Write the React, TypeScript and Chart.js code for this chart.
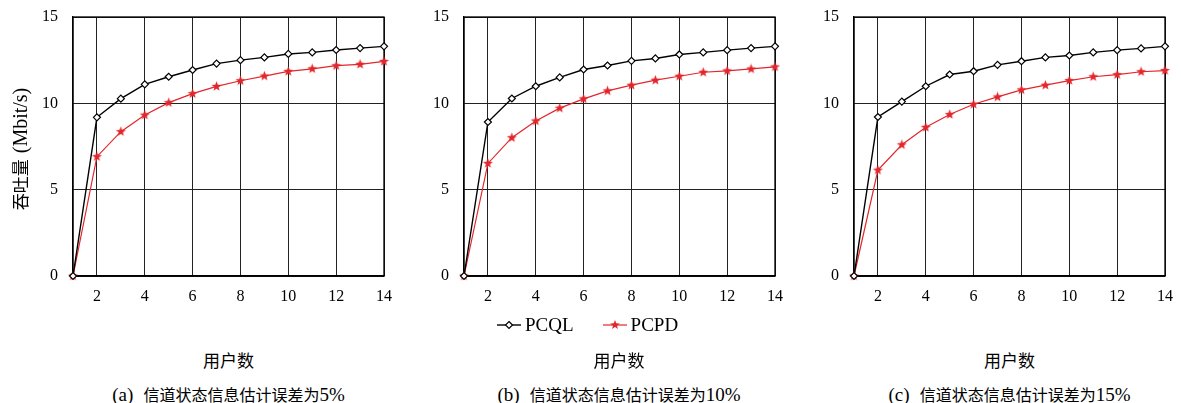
import React, { useEffect, useRef } from "react";
import { Chart, registerables } from "chart.js";
Chart.register(...registerables);

const userCounts = [1, 2, 3, 4, 5, 6, 7, 8, 9, 10, 11, 12, 13, 14];
const xTickValues = [2, 4, 6, 8, 10, 12, 14];
const yTickValues = [0, 5, 10, 15];
const seriesNames = ["PCQL", "PCPD"];
const pcqlA = [0, 9.19, 10.27, 11.1, 11.54, 11.93, 12.3, 12.5, 12.66, 12.86, 12.95, 13.09, 13.2, 13.3];
const pcpdA = [0, 6.91, 8.36, 9.32, 10.04, 10.56, 10.98, 11.31, 11.58, 11.85, 12.0, 12.18, 12.26, 12.43];
const pcqlB = [0, 8.92, 10.28, 10.99, 11.5, 11.96, 12.19, 12.46, 12.6, 12.83, 12.95, 13.08, 13.2, 13.3];
const pcpdB = [0, 6.52, 8.01, 8.98, 9.72, 10.26, 10.72, 11.05, 11.34, 11.57, 11.8, 11.88, 11.99, 12.11];
const pcqlC = [0, 9.21, 10.1, 10.99, 11.67, 11.86, 12.23, 12.44, 12.66, 12.77, 12.95, 13.08, 13.18, 13.3];
const pcpdC = [0, 6.13, 7.6, 8.61, 9.35, 9.95, 10.37, 10.78, 11.05, 11.32, 11.54, 11.66, 11.83, 11.9];
const xTitle = "用户数";
const yTitleCjk = "吞吐量";
const yTitleUnit = "(Mbit/s)";
const captionLabels = ["(a)", "(b)", "(c)"];
const captionText = "信道状态信息估计误差为";
const captionErrors = ["5%", "10%", "15%"];

const RED = "#e3262b";
const FONT = '"Liberation Serif", "Times New Roman", "DejaVu Serif", serif';
const CJK = '"Noto Sans CJK SC", sans-serif';

const AXIS_W = 73;
const PLOT_W = 311;
const PAD_R = 14;
const PLOT_TOP = 17;
const CANVAS_H = 310;
const X_AXIS_H = 34;
const panels = [
  { left: 73, q: pcqlA, p: pcpdA },
  { left: 463.5, q: pcqlB, p: pcpdB },
  { left: 854, q: pcqlC, p: pcpdC },
];

function makeStar(color: string, size: number): HTMLCanvasElement {
  const c = document.createElement("canvas");
  c.width = size;
  c.height = size;
  const ctx = c.getContext("2d")!;
  const cx = size / 2, cy = size / 2;
  const R = size / 2 - 0.3, r = R * 0.42;
  ctx.beginPath();
  for (let i = 0; i < 10; i++) {
    const a = -Math.PI / 2 + (i * Math.PI) / 5;
    const rad = i % 2 === 0 ? R : r;
    const x = cx + rad * Math.cos(a), y = cy + rad * Math.sin(a);
    if (i === 0) ctx.moveTo(x, y); else ctx.lineTo(x, y);
  }
  ctx.closePath();
  ctx.fillStyle = color;
  ctx.fill();
  return c;
}

const boxPlugin = {
  id: "box",
  beforeDatasetsDraw(chart: any) {
    const { ctx, chartArea: a } = chart;
    ctx.save();
    ctx.strokeStyle = "#000";
    ctx.lineWidth = 1.3;
    ctx.strokeRect(a.left, a.top, a.right - a.left, a.bottom - a.top);
    ctx.restore();
  },
};

function zeroPadding(s: any) {
  s.paddingTop = 0;
  s.paddingBottom = 0;
  s.paddingLeft = 0;
  s.paddingRight = 0;
}

function Panel({ left, q, p }: { left: number; q: number[]; p: number[] }) {
  const ref = useRef<HTMLCanvasElement>(null);
  const W = AXIS_W + PLOT_W + PAD_R;
  useEffect(() => {
    const star = makeStar(RED, 11);
    const tickFont = { family: FONT, size: 16 };
    const chart = new Chart(ref.current!, {
      type: "line",
      data: {
        datasets: [
          {
            label: seriesNames[0],
            data: userCounts.map((x, i) => ({ x, y: q[i] })),
            borderColor: "#000",
            borderWidth: 1.4,
            pointStyle: "rectRot",
            pointRadius: 3.5,
            pointBackgroundColor: "#fff",
            pointBorderColor: "#000",
            pointBorderWidth: 1.2,
            tension: 0,
            clip: false,
          } as any,
          {
            label: seriesNames[1],
            data: userCounts.map((x, i) => ({ x, y: p[i] })),
            borderColor: RED,
            borderWidth: 1.2,
            pointStyle: star,
            pointRadius: 5,
            tension: 0,
            clip: false,
          } as any,
        ],
      },
      options: {
        animation: false,
        responsive: false,
        events: [],
        layout: { autoPadding: false, padding: { left: 0, right: PAD_R, top: PLOT_TOP, bottom: 0 } },
        plugins: { legend: { display: false }, tooltip: { enabled: false } },
        scales: {
          x: {
            type: "linear",
            min: 1,
            max: 14,
            afterBuildTicks: (s: any) => {
              s.ticks = xTickValues.map((v) => ({ value: v }));
            },
            afterFit: (s: any) => {
              s.height = X_AXIS_H;
              zeroPadding(s);
            },
            grid: { color: "#222", lineWidth: 1, drawTicks: false },
            border: { color: "#000", width: 1.3 },
            ticks: { color: "#000", font: tickFont, padding: 11, maxRotation: 0, autoSkip: false },
          },
          y: {
            min: 0,
            max: 15,
            afterBuildTicks: (s: any) => {
              s.ticks = yTickValues.map((v) => ({ value: v }));
            },
            afterFit: (s: any) => {
              s.width = AXIS_W;
              zeroPadding(s);
            },
            grid: { color: "#222", lineWidth: 1, drawTicks: false },
            border: { color: "#000", width: 1.3 },
            ticks: { color: "#000", font: tickFont, padding: 15 },
          },
        },
      } as any,
      plugins: [boxPlugin],
    });
    return () => chart.destroy();
  }, []);
  return (
    <canvas
      ref={ref}
      width={W}
      height={CANVAS_H}
      style={{ position: "absolute", left: left - AXIS_W, top: 0, width: W, height: CANVAS_H }}
    />
  );
}

function LegendMark({ kind }: { kind: "diamond" | "star" }) {
  const color = kind === "diamond" ? "#000" : RED;
  const pts: string[] = [];
  for (let i = 0; i < 10; i++) {
    const a = -Math.PI / 2 + (i * Math.PI) / 5;
    const rad = i % 2 === 0 ? 5 : 2.1;
    pts.push(`${13 + rad * Math.cos(a)},${8 + rad * Math.sin(a)}`);
  }
  return (
    <svg width={27} height={16} style={{ display: "block" }}>
      <line x1={1} y1={8} x2={25} y2={8} stroke={color} strokeWidth={kind === "diamond" ? 1.4 : 1.2} />
      {kind === "diamond" ? (
        <polygon points="13,4.5 16.5,8 13,11.5 9.5,8" fill="#fff" stroke="#000" strokeWidth={1.2} />
      ) : (
        <polygon points={pts.join(" ")} fill={RED} />
      )}
    </svg>
  );
}

export default function App() {
  return (
    <div style={{ position: "absolute", left: 0, top: 0, width: 1181, height: 403, background: "#fff", overflow: "hidden" }}>
      {panels.map((pn, i) => (
        <Panel key={i} left={pn.left} q={pn.q} p={pn.p} />
      ))}
      <div
        style={{
          position: "absolute",
          left: 20 - 100,
          top: 149 - 12,
          width: 200,
          height: 24,
          lineHeight: "24px",
          textAlign: "center",
          transform: "rotate(-90deg)",
          whiteSpace: "nowrap",
          color: "#000",
        }}
      >
        <span style={{ fontFamily: CJK, fontSize: 17 }}>{yTitleCjk}</span>
        <span style={{ fontFamily: FONT, fontSize: 20, marginLeft: 6 }}>{yTitleUnit}</span>
      </div>
      <div
        style={{
          position: "absolute",
          left: 496,
          top: 314,
          height: 22,
          display: "flex",
          alignItems: "center",
          fontFamily: FONT,
          fontSize: 19,
          color: "#000",
          whiteSpace: "nowrap",
        }}
      >
        <LegendMark kind="diamond" />
        <span style={{ marginLeft: 2 }}>{seriesNames[0]}</span>
        <span style={{ width: 28 }} />
        <LegendMark kind="star" />
        <span style={{ marginLeft: 2 }}>{seriesNames[1]}</span>
      </div>
      {panels.map((pn, i) => {
        const cx = pn.left + PLOT_W / 2;
        return (
          <React.Fragment key={"t" + i}>
            <div
              style={{
                position: "absolute",
                left: cx - 150,
                width: 300,
                top: 348,
                textAlign: "center",
                fontFamily: CJK,
                fontSize: 17,
                lineHeight: "24px",
                color: "#000",
              }}
            >
              {xTitle}
            </div>
            <div
              style={{
                position: "absolute",
                left: cx - 190,
                width: 380,
                top: 382,
                textAlign: "center",
                lineHeight: "24px",
                color: "#000",
                whiteSpace: "nowrap",
              }}
            >
              <span style={{ fontFamily: FONT, fontSize: 19 }}>{captionLabels[i]}</span>
              <span style={{ fontFamily: CJK, fontSize: 16, marginLeft: 10 }}>{captionText}</span>
              <span style={{ fontFamily: FONT, fontSize: 19 }}>{captionErrors[i]}</span>
            </div>
          </React.Fragment>
        );
      })}
    </div>
  );
}
